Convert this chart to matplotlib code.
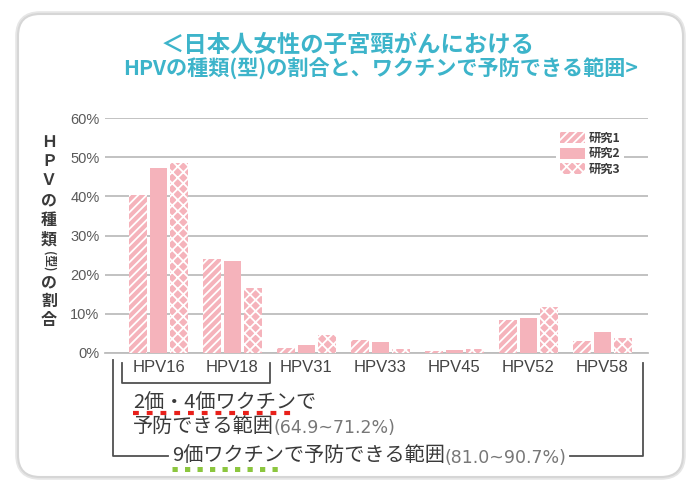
import numpy as np
import matplotlib
matplotlib.use("Agg")
import matplotlib.pyplot as plt
from matplotlib.patches import FancyBboxPatch

plt.rcParams['font.family'] = ['Noto Sans CJK JP', 'DejaVu Sans']
plt.rcParams['hatch.linewidth'] = 1.3

# data (percent)
types = ['HPV16', 'HPV18', 'HPV31', 'HPV33', 'HPV45', 'HPV52', 'HPV58']
study1 = [40.3, 23.9, 1.3, 3.2, 0.4, 8.3, 3.1]
study2 = [47.3, 23.6, 2.1, 2.7, 0.8, 8.9, 5.3]
study3 = [48.5, 16.7, 4.7, 1.0, 1.1, 11.7, 3.8]
series_names = ['研究1', '研究2', '研究3']
yticks = [0, 10, 20, 30, 40, 50, 60]

pink = '#f5b3bb'
title_col = '#3db4ca'
dark = '#3a3a3a'

W, H = 692, 482
fig = plt.figure(figsize=(W / 100, H / 100), dpi=100)

# background / annotation layer in pixel coordinates
bg = fig.add_axes([0, 0, 1, 1])
bg.set_xlim(0, W)
bg.set_ylim(H, 0)
bg.axis('off')
bg.add_patch(FancyBboxPatch((18, 14), 665, 463, boxstyle='round,pad=0,rounding_size=22',
                            facecolor='white', edgecolor='#e6e6e6', linewidth=4))
bg.add_patch(FancyBboxPatch((18, 14), 665, 463, boxstyle='round,pad=0,rounding_size=22',
                            facecolor='white', edgecolor='#d6d6d6', linewidth=1.5))

bg.text(348, 45, '＜日本人女性の子宮頸がんにおける', color=title_col, fontsize=16.8,
        fontweight='bold', ha='center', va='center')
bg.text(381, 69, 'HPVの種類(型)の割合と、ワクチンで予防できる範囲>', color=title_col,
        fontsize=15.2, fontweight='bold', ha='center', va='center')

# vertical y label
ylab = ['Ｈ', 'Ｐ', 'Ｖ', 'の', '種', '類', '(型)', 'の', '割', '合']
ylab_y = [142, 161, 180, 200, 220, 240, 261, 282, 301, 320]
for ch, yy in zip(ylab, ylab_y):
    if ch == '(型)':
        bg.text(49, yy, ch, fontsize=8.5, fontweight='bold', color=dark, rotation=-90,
                ha='center', va='center')
    else:
        bg.text(49, yy, ch, fontsize=11.5, fontweight='bold', color=dark,
                ha='center', va='center')

# brackets
bc = '#505050'
bg.plot([122, 122, 270, 270], [363, 383, 383, 363], color=bc, lw=1.3)
bg.plot([113, 113, 168], [360, 456, 456], color=bc, lw=1.3)
bg.plot([570, 643, 643], [456, 456, 363], color=bc, lw=1.3)

fs_note = 14.5
fs_pct = 12.5
pct_font = ['DejaVu Sans']
bg.text(133, 402, '2価・4価ワクチンで', fontsize=fs_note, color=dark, ha='left', va='center')
t2 = bg.text(133, 426, '予防できる範囲', fontsize=fs_note, color=dark, ha='left', va='center')
bg.annotate('(64.9~71.2%)', xy=(1, 0.4), xycoords=t2, fontsize=fs_pct, color='#777777',
            ha='left', va='center', family=pct_font)
t3 = bg.text(172, 456, '9価ワクチンで予防できる範囲', fontsize=fs_note, color=dark,
             ha='left', va='center')
bg.annotate('(81.0~90.7%)', xy=(1, 0.4), xycoords=t3, fontsize=fs_pct, color='#777777',
            ha='left', va='center', family=pct_font)

bg.plot([133, 292], [413, 413], color='#e8201a', lw=3, dashes=(1.4, 1.9),
        solid_capstyle='butt', dash_capstyle='butt')
bg.plot([172, 284], [469, 469], color='#8cc63f', lw=3.6, dashes=(1.05, 1.45),
        solid_capstyle='butt', dash_capstyle='butt')

# chart
ax = fig.add_axes([105 / W, 1 - 353 / H, 543 / W, 235 / H])
ax.set_facecolor('none')
x = np.arange(len(types))
bw = 0.243
off = 0.277
hatches = ['////', None, 'xxx']
for i, (vals, name, ht) in enumerate(zip([study1, study2, study3], series_names, hatches)):
    ax.bar(x + (i - 1) * off, vals, bw, color=pink, edgecolor='white', linewidth=0,
           hatch=ht, label=name, zorder=3)

ax.set_xlim(-0.723, 6.615)
ax.set_ylim(0, 60)
ax.set_yticks(yticks)
ax.set_yticklabels([f'{v}%' for v in yticks], fontsize=10.5, color='#5a5a5a',
                   family=['Liberation Sans', 'DejaVu Sans'])
ax.set_xticks(x)
ax.set_xticklabels(types, fontsize=12, color='#444444',
                   family=['Liberation Sans', 'DejaVu Sans'])
ax.tick_params(axis='both', length=0)
ax.tick_params(axis='y', pad=4)
ax.tick_params(axis='x', pad=5)
ax.grid(axis='y', color='#bdbdbd', linewidth=1.3, zorder=0)
ax.set_axisbelow(True)
for s in ax.spines.values():
    s.set_visible(False)
ax.spines['bottom'].set_visible(True)
ax.spines['bottom'].set_color('#bdbdbd')
ax.spines['bottom'].set_linewidth(1.3)

leg = ax.legend(loc='upper left', bbox_to_anchor=(556 / W, 1 - 128 / H),
                bbox_transform=fig.transFigure, fontsize=8.8, frameon=True,
                handlelength=2.1, handleheight=1.0, handletextpad=0.3,
                labelspacing=0.22, borderpad=0.3, borderaxespad=0)
leg.get_frame().set_facecolor('white')
leg.get_frame().set_edgecolor('none')
leg.get_frame().set_alpha(1)
for t in leg.get_texts():
    t.set_color(dark)
    t.set_fontweight('bold')

fig.savefig('out.png', dpi=100)
